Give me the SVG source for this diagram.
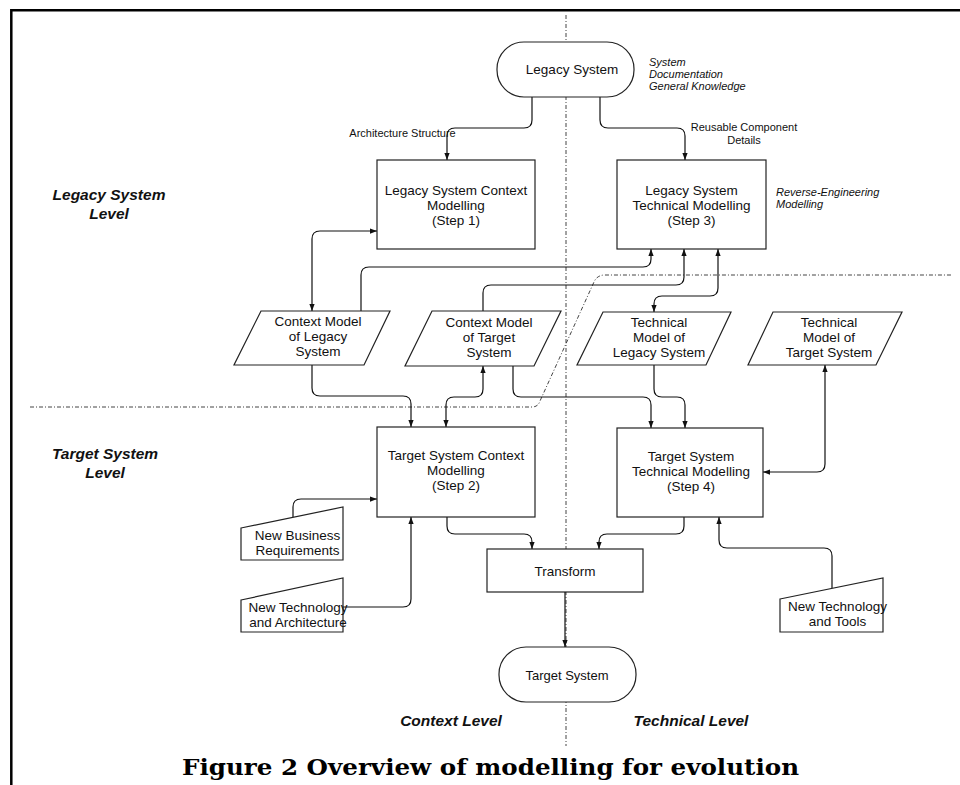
<svg xmlns="http://www.w3.org/2000/svg" width="960" height="785" viewBox="0 0 960 785">
<defs>
<marker id="arr" viewBox="0 0 8 6" refX="8" refY="3" markerWidth="7" markerHeight="6" markerUnits="userSpaceOnUse" orient="auto-start-reverse">
<path d="M0,0 L8,3 L0,6 z" fill="#111"/>
</marker>
</defs>
<style>
.n{fill:#fff;stroke:#222;stroke-width:1.2}
.t{font-family:"Liberation Sans",Arial,sans-serif;font-size:13.5px;fill:#111;text-anchor:middle}
.s{font-family:"Liberation Sans",Arial,sans-serif;font-size:11px;fill:#111}
.si{font-family:"Liberation Sans",Arial,sans-serif;font-size:11px;font-style:italic;fill:#111}
.lv{font-family:"Liberation Sans",Arial,sans-serif;font-size:15.5px;font-weight:bold;font-style:italic;fill:#111;text-anchor:middle}
.c{fill:none;stroke:#111;stroke-width:1.2}
.a{marker-end:url(#arr)}
.b{marker-start:url(#arr);marker-end:url(#arr)}
.d{fill:none;stroke:#444;stroke-width:1;stroke-dasharray:4 2 1 2}
</style>
<rect x="0" y="0" width="960" height="785" fill="#fff"/>
<g id="frame" fill="none" stroke="#000" stroke-width="2.5">
<path d="M11.3,785 V10.3 H960"/>
</g>
<g id="boundaries">
<path class="d" d="M566,15 V746"/>
<path class="d" d="M30,407 H532 Q538,407 540,401 L594,282 Q597,275 605,275 H952"/>
</g>
<g id="labels">
<text class="lv" x="109" y="200">Legacy System</text>
<text class="lv" x="109" y="219">Level</text>
<text class="lv" x="105" y="459">Target System</text>
<text class="lv" x="105" y="478">Level</text>
<text class="lv" x="451" y="726">Context Level</text>
<text class="lv" x="691" y="726">Technical Level</text>
<text class="si" x="649" y="66">System</text>
<text class="si" x="649" y="78">Documentation</text>
<text class="si" x="649" y="90">General Knowledge</text>
<text class="si" x="776" y="196">Reverse-Engineering</text>
<text class="si" x="776" y="208">Modelling</text>
<text x="182" y="775" textLength="617" lengthAdjust="spacingAndGlyphs" style="font-family:'DejaVu Serif',serif;font-weight:bold;font-size:23px;fill:#000">Figure 2 Overview of modelling for evolution</text>
</g>
<g id="connectors">
<path class="c a" d="M532,97 V120 Q532,128 524,128 H455 Q447,128 447,136 V160"/>
<path class="c a" d="M600,97 V120 Q600,128 608,128 H677 Q685,128 685,136 V160"/>
<path class="c b" d="M377,231 H320 Q312,231 312,239 V311"/>
<path class="c a" d="M361,311 V275 Q361,267 369,267 H643 Q651,267 651,259 V249"/>
<path class="c a" d="M483,311 V293 Q483,285 491,285 H676 Q684,285 684,277 V249"/>
<path class="c b" d="M718,249 V288 Q718,296 710,296 H662 Q654,296 654,304 V312"/>
<path class="c a" d="M312,365 V388 Q312,396 320,396 H403 Q411,396 411,404 V427"/>
<path class="c b" d="M446,427 V405 Q446,397 454,397 H475 Q483,397 483,389 V366"/>
<path class="c a" d="M513,366 V389 Q513,397 521,397 H643 Q651,397 651,405 V428"/>
<path class="c a" d="M654,365 V389 Q654,397 662,397 H677 Q685,397 685,405 V428"/>
<path class="c b" d="M825,365 V464 Q825,472 817,472 H763"/>
<path class="c a" d="M293,517 V507 Q293,499 301,499 H377"/>
<path class="c a" d="M343,607 H403 Q411,607 411,599 V517"/>
<path class="c a" d="M447,517 V526 Q447,534 455,534 H524 Q532,534 532,542 V549"/>
<path class="c a" d="M684,517 V526 Q684,534 676,534 H607 Q599,534 599,542 V549"/>
<path class="c a" d="M832,588 V556 Q832,548 824,548 H727 Q719,548 719,540 V517"/>
</g>
<g id="legacy-system">
<rect class="n" x="497" y="42" width="137" height="55" rx="27" ry="27"/>
<text class="t" x="572" y="74">Legacy System</text>
</g>
<g id="step1">
<rect class="n" x="377" y="160" width="158" height="89"/>
<text class="t" x="456" y="195">Legacy System Context</text>
<text class="t" x="456" y="210">Modelling</text>
<text class="t" x="456" y="225">(Step 1)</text>
</g>
<g id="step3">
<rect class="n" x="617" y="160" width="149" height="89"/>
<text class="t" x="691.5" y="195">Legacy System</text>
<text class="t" x="691.5" y="210">Technical Modelling</text>
<text class="t" x="691.5" y="225">(Step 3)</text>
</g>
<g id="cm-legacy">
<polygon class="n" points="261,311 390,311 364,365 234,365"/>
<text class="t" x="318" y="326">Context Model</text>
<text class="t" x="318" y="341">of Legacy</text>
<text class="t" x="318" y="356">System</text>
</g>
<g id="cm-target">
<polygon class="n" points="432,311 561,311 534,366 405,366"/>
<text class="t" x="489" y="327">Context Model</text>
<text class="t" x="489" y="342">of Target</text>
<text class="t" x="489" y="357">System</text>
</g>
<g id="tm-legacy">
<polygon class="n" points="603,312 731,312 706,365 577,365"/>
<text class="t" x="659" y="327">Technical</text>
<text class="t" x="659" y="342">Model of</text>
<text class="t" x="659" y="357">Legacy System</text>
</g>
<g id="tm-target">
<polygon class="n" points="773,312 902,312 876,365 748,365"/>
<text class="t" x="829" y="327">Technical</text>
<text class="t" x="829" y="342">Model of</text>
<text class="t" x="829" y="357">Target System</text>
</g>
<g id="step2">
<rect class="n" x="377" y="427" width="158" height="90"/>
<text class="t" x="456" y="460">Target System Context</text>
<text class="t" x="456" y="475">Modelling</text>
<text class="t" x="456" y="490">(Step 2)</text>
</g>
<g id="step4">
<rect class="n" x="617" y="428" width="146" height="89"/>
<text class="t" x="691" y="461">Target System</text>
<text class="t" x="691" y="476">Technical Modelling</text>
<text class="t" x="691" y="491">(Step 4)</text>
</g>
<g id="new-business">
<polygon class="n" points="241,528 343,507 343,560 241,560"/>
<text class="t" x="297.5" y="540">New Business</text>
<text class="t" x="297.5" y="555">Requirements</text>
</g>
<g id="new-tech-arch">
<polygon class="n" points="241,600 343,578 343,632 241,632"/>
<text class="t" x="298" y="612">New Technology</text>
<text class="t" x="298" y="627">and Architecture</text>
</g>
<g id="new-tech-tools">
<polygon class="n" points="780,599 883,578 883,632 780,632"/>
<text class="t" x="837.5" y="611">New Technology</text>
<text class="t" x="837.5" y="626">and Tools</text>
</g>
<g id="transform">
<rect class="n" x="487" y="549" width="156" height="43"/>
<text class="t" x="565" y="576">Transform</text>
</g>
<g id="target-system">
<rect class="n" x="499" y="647" width="137" height="55" rx="27" ry="27"/>
<text class="t" x="567" y="680" style="font-size:13px">Target System</text>
</g>
<g id="connectors-2">
<path class="c a" d="M565,592 V647"/>
</g>
<g id="edge-labels">
<text class="s" x="402.5" y="137" text-anchor="middle">Architecture Structure</text>
<text class="s" x="744" y="131" text-anchor="middle">Reusable Component</text>
<text class="s" x="744" y="144" text-anchor="middle">Details</text>
</g>
</svg>
